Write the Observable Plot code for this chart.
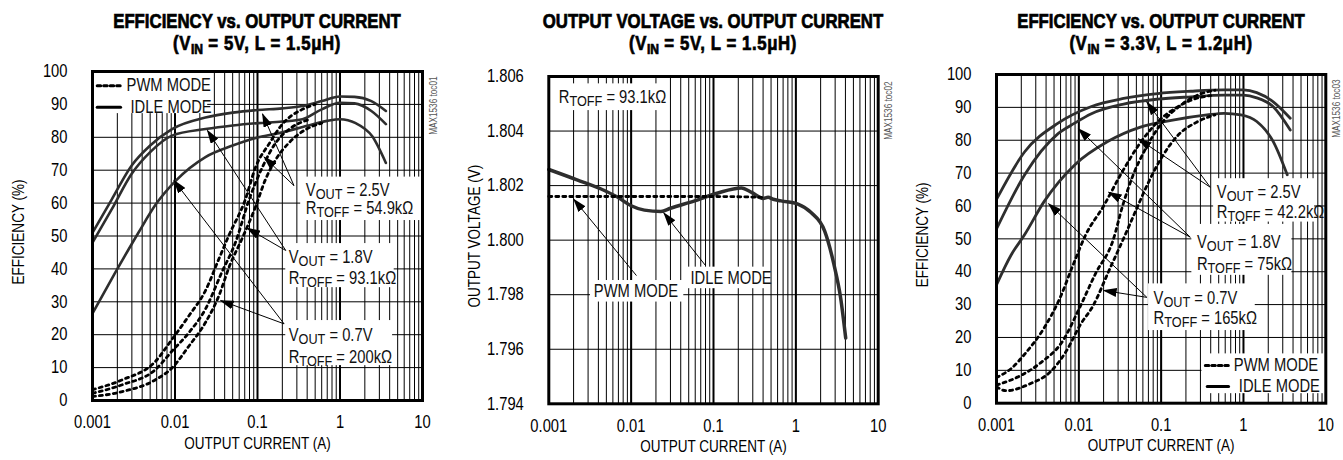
<!DOCTYPE html>
<html><head><meta charset="utf-8">
<script src="https://cdn.jsdelivr.net/npm/d3@7"></script>
<script src="https://cdn.jsdelivr.net/npm/@observablehq/plot@0.6"></script>
<style>
body{margin:0;background:#fff;}
#root{position:relative;width:1343px;height:460px;overflow:hidden;font-family:"Liberation Sans",Arial,sans-serif;}
.title{position:absolute;top:10px;width:440px;text-align:center;font-weight:bold;font-size:19.5px;line-height:22px;color:#000;white-space:nowrap;transform:scaleX(0.86);transform-origin:50% 50%;-webkit-text-stroke:0.7px #000;}
.title .l2{letter-spacing:0.7px;}
.title sub{font-size:72%;vertical-align:-0.3em;line-height:0;letter-spacing:0}
.panel{position:absolute;top:56px;}
</style></head><body><div id="root"></div>
<script>
// ---------- axis ticks ----------
const currentTicks = [0.001, 0.01, 0.1, 1, 10];
const currentTickLabels = ["0.001", "0.01", "0.1", "1", "10"];
const effTicks = [0, 10, 20, 30, 40, 50, 60, 70, 80, 90, 100];
const effTickLabels = ["0", "10", "20", "30", "40", "50", "60", "70", "80", "90", "100"];
const voltTicks = [1.794, 1.796, 1.798, 1.800, 1.802, 1.804, 1.806];
const voltTickLabels = ["1.794", "1.796", "1.798", "1.800", "1.802", "1.804", "1.806"];

// ---------- titles ----------
const titles = [
  ["EFFICIENCY vs. OUTPUT CURRENT", "(V<sub>IN</sub> = 5V, L = 1.5&mu;H)"],
  ["OUTPUT VOLTAGE vs. OUTPUT CURRENT", "(V<sub>IN</sub> = 5V, L = 1.5&mu;H)"],
  ["EFFICIENCY vs. OUTPUT CURRENT", "(V<sub>IN</sub> = 3.3V, L = 1.2&mu;H)"]
];
const xLabels = ["OUTPUT CURRENT (A)", "OUTPUT CURRENT (A)", "OUTPUT CURRENT (A)"];
const yLabels = ["EFFICIENCY (%)", "OUTPUT VOLTAGE (V)", "EFFICIENCY (%)"];
const codes = ["MAX1536 toc01", "MAX1536 toc02", "MAX1536 toc03"];

// ---------- panel 1 data: efficiency (VIN=5V) ----------
const p1Idle25 = [[0.001,51],[0.0017,61],[0.003,71.5],[0.005,77.5],[0.0092,82.5],[0.0234,86],[0.05,87.5],[0.1,88.3],[0.2,88.8],[0.35,89.5],[0.6,91],[1,92.4],[1.5,92.3],[2.4,91],[3.6,88]];
const p1Idle18 = [[0.001,48],[0.0017,58],[0.003,69],[0.005,75.5],[0.0092,80.5],[0.0234,82.5],[0.05,83.6],[0.1,84.3],[0.2,84.8],[0.35,85.5],[0.6,88.5],[1,90.5],[1.5,90.3],[2.4,88],[3.6,84]];
const p1Idle07 = [[0.001,26.5],[0.0019,39],[0.0036,51],[0.006,60],[0.0101,66.7],[0.0234,74],[0.05,77.5],[0.095,79.8],[0.2,81.5],[0.4,83.5],[0.7,85],[1,85.5],[1.55,84.3],[2.46,80.3],[3.6,72.2]];
const p1Pwm25 = [[0.001,3.3],[0.0023,6.3],[0.0058,11.9],[0.0092,18.6],[0.0147,25.7],[0.0234,33.4],[0.034,43],[0.045,50.2],[0.071,61],[0.095,71],[0.138,78],[0.2,84],[0.35,88.5],[0.5,90]];
const p1Pwm18 = [[0.001,2.2],[0.0023,4.8],[0.0058,9.4],[0.0092,15],[0.0147,20.6],[0.0234,27.8],[0.037,39],[0.054,48],[0.079,61],[0.115,71],[0.166,78.3],[0.26,83],[0.42,85.4]];
const p1Pwm07 = [[0.001,1.2],[0.0023,2.7],[0.0058,6.3],[0.0092,9.9],[0.0147,16.5],[0.0234,23.7],[0.034,31.8],[0.046,41],[0.065,49.2],[0.095,59],[0.125,67.2],[0.166,73.2],[0.24,78.3],[0.38,82.3],[0.6,84.3]];

// ---------- panel 2 data: output voltage ----------
const p2Idle = [[0.001,1.80259],[0.0022,1.80221],[0.0048,1.80181],[0.0069,1.80157],[0.01,1.80126],[0.0145,1.8011],[0.023,1.80105],[0.03,1.80117],[0.059,1.80144],[0.113,1.80173],[0.218,1.80191],[0.29,1.80175],[0.4,1.80153],[0.46,1.80157],[0.53,1.8015],[0.66,1.80144],[1.06,1.80132],[1.53,1.80101],[2.24,1.80033],[2.9,1.79911],[3.5,1.79788],[4.03,1.79641]];
const p2Pwm = [[0.001,1.8016],[0.01,1.8016],[0.1,1.8016],[0.4,1.80157]];

// ---------- panel 3 data: efficiency (VIN=3.3V) ----------
const p3Idle25 = [[0.001,62],[0.0022,76.5],[0.0056,85.2],[0.014,90.2],[0.035,92.7],[0.091,94.2],[0.23,94.9],[0.58,95.3],[1,95.3],[1.45,94.5],[2.3,91.7],[3.7,86.7]];
const p3Idle18 = [[0.001,53],[0.0022,69.5],[0.0056,82],[0.0089,85.2],[0.014,88],[0.035,91],[0.091,92.5],[0.23,93.2],[0.58,93.7],[1,93.7],[1.45,92.9],[2.3,90.2],[3.7,83.1]];
const p3Idle07 = [[0.001,36],[0.0015,45],[0.0022,51.3],[0.0038,61.4],[0.0089,72.5],[0.0224,79.6],[0.056,84],[0.144,86.2],[0.36,87.7],[0.58,88.2],[0.93,87.7],[1.45,85.7],[2.3,79.6],[3.4,69.5]];
const p3Pwm25 = [[0.001,7.8],[0.0015,10.5],[0.0023,15.5],[0.0037,22.5],[0.0059,32],[0.0085,42],[0.012,51],[0.02,60],[0.033,70],[0.055,79],[0.09,85.5],[0.15,89.8],[0.25,92.5],[0.4,93.6]];
const p3Pwm18 = [[0.001,5.5],[0.002,8.5],[0.0034,12.2],[0.0064,19],[0.0102,29],[0.016,39.5],[0.026,49.5],[0.034,60],[0.045,69],[0.065,77.5],[0.1,85],[0.17,90.5],[0.28,93.8],[0.45,95.2]];
const p3Pwm07 = [[0.001,5],[0.0013,3.8],[0.0026,6],[0.0045,9.5],[0.0071,16],[0.0105,24],[0.0148,29.5],[0.0234,40.5],[0.037,51.5],[0.05,59],[0.068,66.5],[0.1,74.5],[0.16,81.5],[0.27,85.5],[0.45,87.7]];

// ---------- annotations (data units) ----------
const p1Boxes = [[0.001,0.0249,87.2,100],[0.334,10,54.7,67.9],[0.22,4.54,34.3,47.7],[0.22,4.34,10.6,24.3]];
const p1Texts = [[0.00259,95.7,"PWM MODE"],[0.00289,89.1,"IDLE MODE"],[0.385,63.8,"V_OUT = 2.5V"],[0.385,58.4,"R_TOFF = 54.9kΩ"],[0.239,43.6,"V_OUT = 1.8V"],[0.239,37.1,"R_TOFF = 93.1kΩ"],[0.239,19.8,"V_OUT = 0.7V"],[0.239,13.2,"R_TOFF = 200kΩ"]];
const p1Arrows = [[0.277,65.3,0.115,87.1],[0.277,65.3,0.12,74],[0.22,45.6,0.0247,82.1],[0.22,45.6,0.0747,52.4],[0.21,23.3,0.0097,66.9],[0.21,23.3,0.0357,30.4]];
const p1LegendDash = [[0.00114,95.7],[0.00219,95.7]];
const p1LegendSolid = [[0.00114,89.1],[0.00219,89.1]];

const p2Boxes = [[0.001,0.0274,1.80475,1.80573],[0.00321,0.0436,1.79773,1.79852],[0.0488,0.483,1.79822,1.79901]];
const p2Texts = [[0.00132,1.80523,"R_TOFF = 93.1kΩ"],[0.00352,1.79813,"PWM MODE"],[0.0526,1.79859,"IDLE MODE"]];
const p2Arrows = [[0.0116,1.7987,0.00201,1.8015],[0.08,1.79907,0.0249,1.8010]];

const p3Boxes = [[0.434,7.31,55.1,68.3],[0.236,3.87,38.9,54.4],[0.0703,1.39,22.1,36.3],[0.313,10,2.9,15.0]];
const p3Texts = [[0.475,64.2,"V_OUT = 2.5V"],[0.475,58.1,"R_TOFF = 42.2kΩ"],[0.272,49.0,"V_OUT = 1.8V"],[0.272,42.4,"R_TOFF = 75kΩ"],[0.081,31.8,"V_OUT = 0.7V"],[0.081,25.7,"R_TOFF = 165kΩ"],[0.764,11.5,"PWM MODE"],[0.879,5.1,"IDLE MODE"]];
const p3Arrows = [[0.395,65.7,0.067,91.6],[0.395,65.7,0.053,80.4],[0.226,50.5,0.0099,83.5],[0.226,50.5,0.023,64.2],[0.067,32.2,0.00429,60.7],[0.067,32.2,0.02,34.3]];
const p3LegendDash = [[0.344,11.5],[0.659,11.5]];
const p3LegendSolid = [[0.363,5.1],[0.659,5.1]];

// ---------- helpers ----------
const FONT = '"Liberation Sans",Arial,sans-serif';
const SQUEEZE = 0.82;
const series = (arr, s) => arr.map(([x, y]) => ({x, y, s}));
const boxes = arr => arr.map(([x1, x2, y1, y2]) => ({x1, x2, y1, y2}));
const texts = arr => arr.map(([x, y, t]) => ({x, y, t}));
const arrows = arr => arr.map(([x1, y1, x2, y2]) => ({x1, y1, x2, y2}));
const gridX = d3.scaleLog().domain([0.001, 10]).ticks();

function makePanel(cfg, idx) {
  const m = [];
  m.push(Plot.ruleX(gridX, {stroke: "#000", strokeWidth: 1}));
  m.push(Plot.ruleX([0.01, 0.1, 1], {stroke: "#000", strokeWidth: 2}));
  m.push(Plot.ruleY(cfg.yTicks, {stroke: "#000", strokeWidth: 1}));
  m.push(Plot.rect(cfg.boxes, {x1: "x1", x2: "x2", y1: "y1", y2: "y2", fill: "white"}));
  m.push(Plot.line(cfg.idle, {x: "x", y: "y", z: "s", stroke: "#2e2e2e", strokeWidth: cfg.idleWidth, curve: "monotone-x"}));
  m.push(Plot.line(cfg.pwm, {x: "x", y: "y", z: "s", stroke: "#000", strokeWidth: 2.8, strokeDasharray: "3,4", curve: "monotone-x"}));
  if (cfg.legDash) {
    m.push(Plot.line(cfg.legDash, {x: "x", y: "y", stroke: "#000", strokeWidth: 3, strokeDasharray: "3.5,3"}));
    m.push(Plot.line(cfg.legSolid, {x: "x", y: "y", stroke: "#000", strokeWidth: 3}));
  }
  m.push(Plot.link(cfg.arrows, {x1: "x1", y1: "y1", x2: "x2", y2: "y2", stroke: "#000", strokeWidth: 1}));
  m.push(Plot.text(cfg.texts, {x: "x", y: "y", text: "t", textAnchor: "start", fontSize: 18, fill: "#111"}));
  m.push(Plot.axisX({ticks: currentTicks, tickSize: 0, tickPadding: 15, tickFormat: d => currentTickLabels[currentTicks.indexOf(d)], label: null, fontSize: 18}));
  m.push(Plot.axisY({ticks: cfg.yTicks, tickSize: 0, tickPadding: 25, tickFormat: d => cfg.yTickLabels[cfg.yTicks.indexOf(d)], label: null, fontSize: 18}));
  m.push(Plot.text([xLabels[idx]], {text: d => d, frameAnchor: "bottom", textAnchor: "middle", dy: 48, fontSize: 16.5}));
  m.push(Plot.text([yLabels[idx]], {text: d => d, frameAnchor: "left", textAnchor: "middle", dx: -74, dy: -4, rotate: -90, fontSize: 16.5}));
  m.push(Plot.text([codes[idx]], {text: d => d, frameAnchor: "top-right", dx: 7, dy: 5, rotate: -90, textAnchor: "end", fontSize: 10, fill: "#555"}));
  m.push(Plot.frame({stroke: "#000", strokeWidth: 3}));
  const svg = Plot.plot({
    width: cfg.width, height: 404,
    marginLeft: cfg.ml, marginRight: cfg.mr, marginTop: cfg.mt, marginBottom: cfg.mb,
    style: {fontFamily: FONT, fontSize: "17px", color: "#000", background: "transparent"},
    x: {type: "log", domain: [0.001, 10]},
    y: {domain: cfg.yDomain},
    marks: m
  });
  const ns = "http://www.w3.org/2000/svg";
  // filled arrowheads
  const defs = document.createElementNS(ns, "defs");
  const marker = document.createElementNS(ns, "marker");
  const id = "ah" + idx;
  marker.setAttribute("id", id);
  marker.setAttribute("markerUnits", "userSpaceOnUse");
  marker.setAttribute("markerWidth", "14");
  marker.setAttribute("markerHeight", "9");
  marker.setAttribute("refX", "13");
  marker.setAttribute("refY", "4.5");
  marker.setAttribute("orient", "auto");
  const mp = document.createElementNS(ns, "path");
  mp.setAttribute("d", "M0,0L14,4.5L0,9Z");
  mp.setAttribute("fill", "#000");
  marker.appendChild(mp);
  defs.appendChild(marker);
  svg.insertBefore(defs, svg.firstChild);
  svg.querySelectorAll('g[aria-label="link"] path').forEach(p => p.setAttribute("marker-end", `url(#${id})`));
  // subscripts + condensed lettering
  svg.querySelectorAll("text").forEach(t => {
    const s = t.textContent;
    const mm = s.match(/^([A-Z])_([A-Z]+)(.*)$/);
    if (mm) {
      while (t.firstChild) t.removeChild(t.firstChild);
      const a = document.createElementNS(ns, "tspan"); a.textContent = mm[1];
      const b = document.createElementNS(ns, "tspan"); b.textContent = mm[2]; b.setAttribute("font-size", "15.5"); b.setAttribute("dy", "3");
      const c = document.createElementNS(ns, "tspan"); c.textContent = mm[3]; c.setAttribute("dy", "-3");
      t.appendChild(a); t.appendChild(b); t.appendChild(c);
    }
    const tr = t.getAttribute("transform");
    if (tr) t.setAttribute("transform", tr + ` scale(${SQUEEZE},1)`);
    else {
      const x = +(t.getAttribute("x") || 0);
      t.setAttribute("transform", `translate(${x},0) scale(${SQUEEZE},1) translate(${-x},0)`);
    }
  });
  const div = document.createElement("div");
  div.className = "panel";
  div.style.left = cfg.left + "px";
  div.appendChild(svg);
  return div;
}

const panels = [
  {left: 0, width: 447, ml: 92, mr: 25, mt: 15, mb: 60, center: 257,
   yDomain: [0, 100], yTicks: effTicks, yTickLabels: effTickLabels, idleWidth: 2.6,
   idle: [...series(p1Idle25, "a"), ...series(p1Idle18, "b"), ...series(p1Idle07, "c")],
   pwm: [...series(p1Pwm25, "a"), ...series(p1Pwm18, "b"), ...series(p1Pwm07, "c")],
   boxes: boxes(p1Boxes), texts: texts(p1Texts), arrows: arrows(p1Arrows),
   legDash: series(p1LegendDash, "d"), legSolid: series(p1LegendSolid, "s")},
  {left: 450, width: 447, ml: 98.3, mr: 19.3, mt: 20, mb: 56.7, center: 713,
   yDomain: [1.794, 1.806], yTicks: voltTicks, yTickLabels: voltTickLabels, idleWidth: 3.5,
   idle: series(p2Idle, "a"), pwm: series(p2Pwm, "a"),
   boxes: boxes(p2Boxes), texts: texts(p2Texts), arrows: arrows(p2Arrows)},
  {left: 897, width: 446, ml: 99, mr: 17.7, mt: 18, mb: 57.3, center: 1160.5,
   yDomain: [0, 100], yTicks: effTicks, yTickLabels: effTickLabels, idleWidth: 2.8,
   idle: [...series(p3Idle25, "a"), ...series(p3Idle18, "b"), ...series(p3Idle07, "c")],
   pwm: [...series(p3Pwm25, "a"), ...series(p3Pwm18, "b"), ...series(p3Pwm07, "c")],
   boxes: boxes(p3Boxes), texts: texts(p3Texts), arrows: arrows(p3Arrows),
   legDash: series(p3LegendDash, "d"), legSolid: series(p3LegendSolid, "s")}
];

const root = document.getElementById("root");
panels.forEach((cfg, i) => {
  root.appendChild(makePanel(cfg, i));
  const t = document.createElement("div");
  t.className = "title";
  t.style.left = (cfg.center - 220) + "px";
  t.innerHTML = titles[i][0] + '<br><span class="l2">' + titles[i][1] + "</span>";
  root.appendChild(t);
});
</script>
</body></html>
